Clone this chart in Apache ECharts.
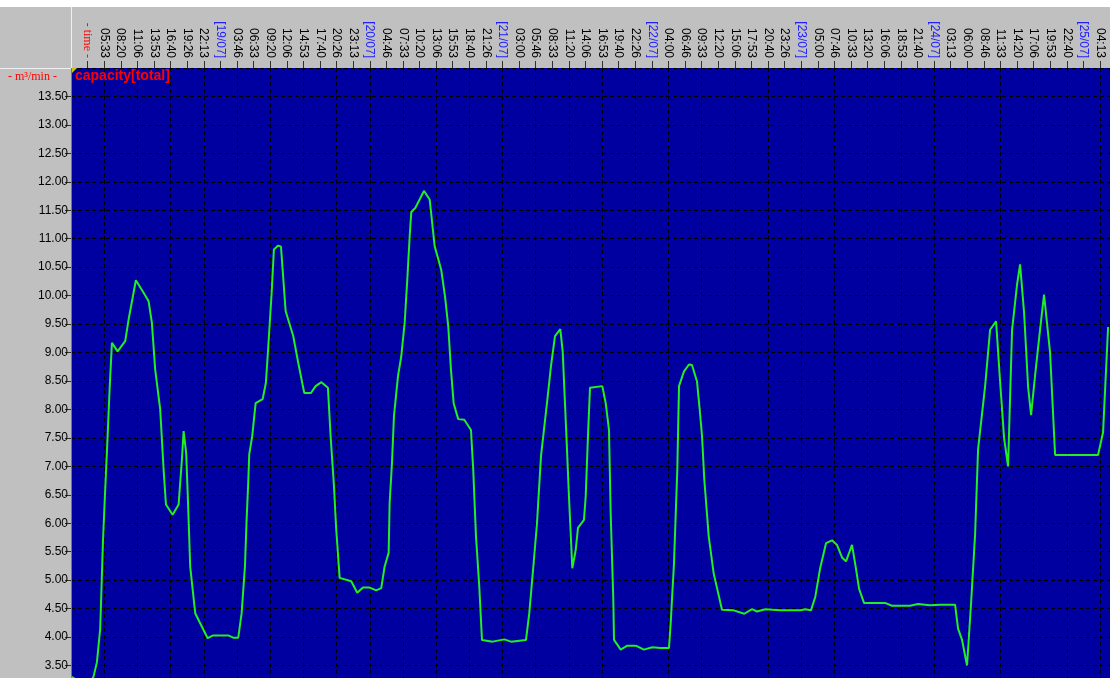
<!DOCTYPE html>
<html>
<head>
<meta charset="utf-8">
<script src="https://cdn.jsdelivr.net/npm/echarts@6/dist/echarts.min.js"></script>
<style>html,body{margin:0;padding:0;background:#fff;overflow:hidden}#c{width:1110px;height:694px}</style>
</head>
<body>
<div id="c"></div>
<script>
// hours elapsed since 18/07 00:00
const hours = [0.15,0.99,3.50,3.78,4.34,4.89,5.34,5.72,6.13,6.46,6.85,7.80,9.07,9.64,10.86,12.15,12.99,13.54,14.09,14.93,15.50,15.89,17.01,18.01,18.56,18.85,19.12,19.28,19.57,19.95,20.79,21.02,22.87,23.80,26.31,27.15,27.99,28.56,29.11,29.39,29.66,29.83,30.33,30.90,32.07,32.62,33.13,33.58,33.96,34.68,35.14,35.42,35.92,37.19,38.03,39.04,40.16,40.94,41.91,43.00,43.45,44.01,44.39,44.96,46.90,47.91,48.86,49.98,51.09,51.92,52.49,53.16,53.33,53.72,54.05,54.72,55.27,55.84,56.28,56.68,56.95,57.62,59.07,60.03,60.86,61.95,62.59,63.14,63.59,64.04,64.81,65.82,66.94,67.32,67.78,68.33,68.78,70.57,72.51,73.63,76.15,76.70,77.43,77.99,78.66,79.66,80.33,81.00,81.89,82.29,82.89,83.34,83.90,84.47,84.85,85.85,86.14,86.52,86.86,88.92,89.49,90.04,90.32,90.76,90.88,92.00,93.10,94.51,95.90,97.29,98.69,100.08,100.37,100.92,101.47,101.76,102.59,103.43,103.93,104.77,105.22,105.61,105.99,106.73,107.56,108.95,110.91,112.69,113.98,114.81,116.20,118.71,122.06,122.90,123.85,124.57,125.36,126.36,127.37,128.20,129.04,129.71,130.71,131.38,131.89,132.72,136.24,137.41,140.42,141.76,143.77,145.45,147.96,148.46,149.13,149.96,150.64,151.31,151.81,152.98,153.82,154.82,155.49,156.16,156.83,157.50,158.34,158.84,159.51,160.18,160.68,161.35,162.18,162.85,163.86,164.70,171.89,172.73,173.57];
// capacity [m³/min]
const capacity = [3.30,3.24,3.25,3.31,3.56,4.15,5.65,6.59,7.53,8.35,9.17,9.02,9.20,9.58,10.27,10.05,9.90,9.52,8.70,8.00,6.94,6.33,6.15,6.33,7.12,7.62,7.59,7.23,6.41,5.24,4.42,4.39,3.98,4.03,4.03,3.99,3.99,4.42,5.24,6.06,6.71,7.21,7.53,8.11,8.18,8.47,9.29,10.05,10.81,10.88,10.86,10.46,9.73,9.29,8.82,8.29,8.29,8.41,8.48,8.38,7.53,6.65,5.89,5.04,4.98,4.78,4.87,4.87,4.82,4.86,5.24,5.48,6.36,7.06,7.88,8.58,8.93,9.52,10.28,11.04,11.47,11.54,11.84,11.69,10.87,10.46,9.99,9.46,8.70,8.11,7.83,7.82,7.64,6.94,5.77,4.89,3.95,3.92,3.96,3.92,3.95,4.42,5.30,6.00,7.18,8.11,8.76,9.29,9.41,9.02,7.59,6.47,5.21,5.53,5.92,6.06,6.47,7.53,8.38,8.41,8.11,7.64,6.18,4.66,3.95,3.78,3.85,3.85,3.78,3.82,3.81,3.81,4.25,5.30,6.94,8.41,8.67,8.79,8.78,8.49,8.00,7.53,6.77,5.77,5.12,4.48,4.47,4.41,4.49,4.45,4.49,4.47,4.47,4.49,4.47,4.71,5.20,5.65,5.70,5.62,5.40,5.33,5.62,5.20,4.85,4.60,4.60,4.55,4.55,4.58,4.56,4.57,4.57,4.15,3.95,3.50,4.60,5.80,7.30,8.40,9.40,9.55,8.50,7.50,7.00,9.40,10.20,10.55,9.70,8.40,7.90,8.60,9.40,10.02,9.00,7.20,7.20,7.60,9.45];
const startDay = 18, monthLabel = '07';
const seriesName = 'capacity[total]';
const unitLabel = '- m\u00b3/min -';
const timeLabel = '- time -';

const TICK = 10000; // seconds between time ticks
const XMAX = 626000;
const pad = n => (n < 10 ? '0' : '') + n;
function timeFmt(v) {
  if (v % TICK !== 0 || v === 0) return '';
  if (v === TICK) return '{t|' + timeLabel + '}';
  const day = Math.floor(v / 86400), prev = Math.floor((v - TICK) / 86400);
  if (day !== prev) return '{d|[' + (startDay + day) + '/' + monthLabel + ']}';
  const s = v % 86400;
  return pad(Math.floor(s / 3600)) + ':' + pad(Math.floor((s % 3600) / 60));
}
const data = hours.map((h, i) => [Math.round(h * 3600), capacity[i]]);

const chart = echarts.init(document.getElementById('c'), null, {renderer: 'canvas'});
chart.setOption({
  backgroundColor: '#c0c0c0',
  animation: false,
  grid: {left: 71, right: 0, top: 68, bottom: 0, show: true, backgroundColor: '#0000a0', borderWidth: 0},
  xAxis: [{
    type: 'value', position: 'top', min: 0, max: XMAX, interval: TICK,
    axisLine: {show: false},
    axisTick: {show: true, inside: false, length: 7, lineStyle: {color: '#303030'}},
    splitLine: {show: false},
    axisLabel: {
      rotate: 90, margin: 10, fontSize: 12, color: '#000', fontFamily: 'Liberation Sans, Arial, sans-serif',
      formatter: timeFmt,
      rich: {
        d: {color: '#2020ff', fontSize: 12, fontFamily: 'Liberation Sans, Arial, sans-serif'},
        t: {color: '#ff0000', fontSize: 12, fontFamily: 'Liberation Serif, serif'}
      }
    }
  }, {
    type: 'value', position: 'top', min: 0, max: XMAX, interval: 2 * TICK,
    axisLine: {show: false}, axisTick: {show: false}, axisLabel: {show: false},
    splitLine: {show: true, lineStyle: {color: '#000', type: [4, 3], width: 1}}
  }],
  yAxis: {
    type: 'value', min: 3, max: 14, interval: 0.5,
    axisLine: {show: true, lineStyle: {color: '#807a50', width: 1}},
    axisTick: {show: true, length: 6, lineStyle: {color: '#303030'}},
    splitLine: {show: true, lineStyle: {color: '#000', type: [4, 3], width: 1}},
    axisLabel: {
      margin: 3, fontSize: 12, color: '#000', fontFamily: 'Liberation Sans, Arial, sans-serif',
      formatter: v => (v >= 14 || v <= 3) ? '' : v.toFixed(2)
    }
  },
  series: [{
    type: 'line', name: seriesName, xAxisIndex: 0, data: data,
    showSymbol: false, symbol: 'none', clip: true,
    lineStyle: {color: '#22ee22', width: 2}
  }],
  graphic: [
    {type: 'rect', left: 0, top: 0, shape: {width: 1110, height: 7}, style: {fill: '#fff'}, z: 100},
    {type: 'line', shape: {x1: 71.5, y1: 7, x2: 71.5, y2: 68}, style: {stroke: '#f0f0f0', lineWidth: 1}, z: 100},
    {type: 'line', shape: {x1: 0, y1: 68.5, x2: 71, y2: 68.5}, style: {stroke: '#f0f0f0', lineWidth: 1}, z: 100},
    {type: 'polygon', shape: {points: [[72, 68], [77, 68], [72, 73]]}, style: {fill: '#c8c800'}, z: 100},
    {type: 'text', left: 8, top: 71, style: {text: unitLabel, fill: '#ff0000', font: '12px "Liberation Serif", serif'}, z: 100},
    {type: 'text', left: 75, top: 69, style: {text: seriesName, fill: '#ff0000', font: 'bold 14px "Liberation Sans", Arial, sans-serif'}, z: 100}
  ]
});
</script>
</body>
</html>
